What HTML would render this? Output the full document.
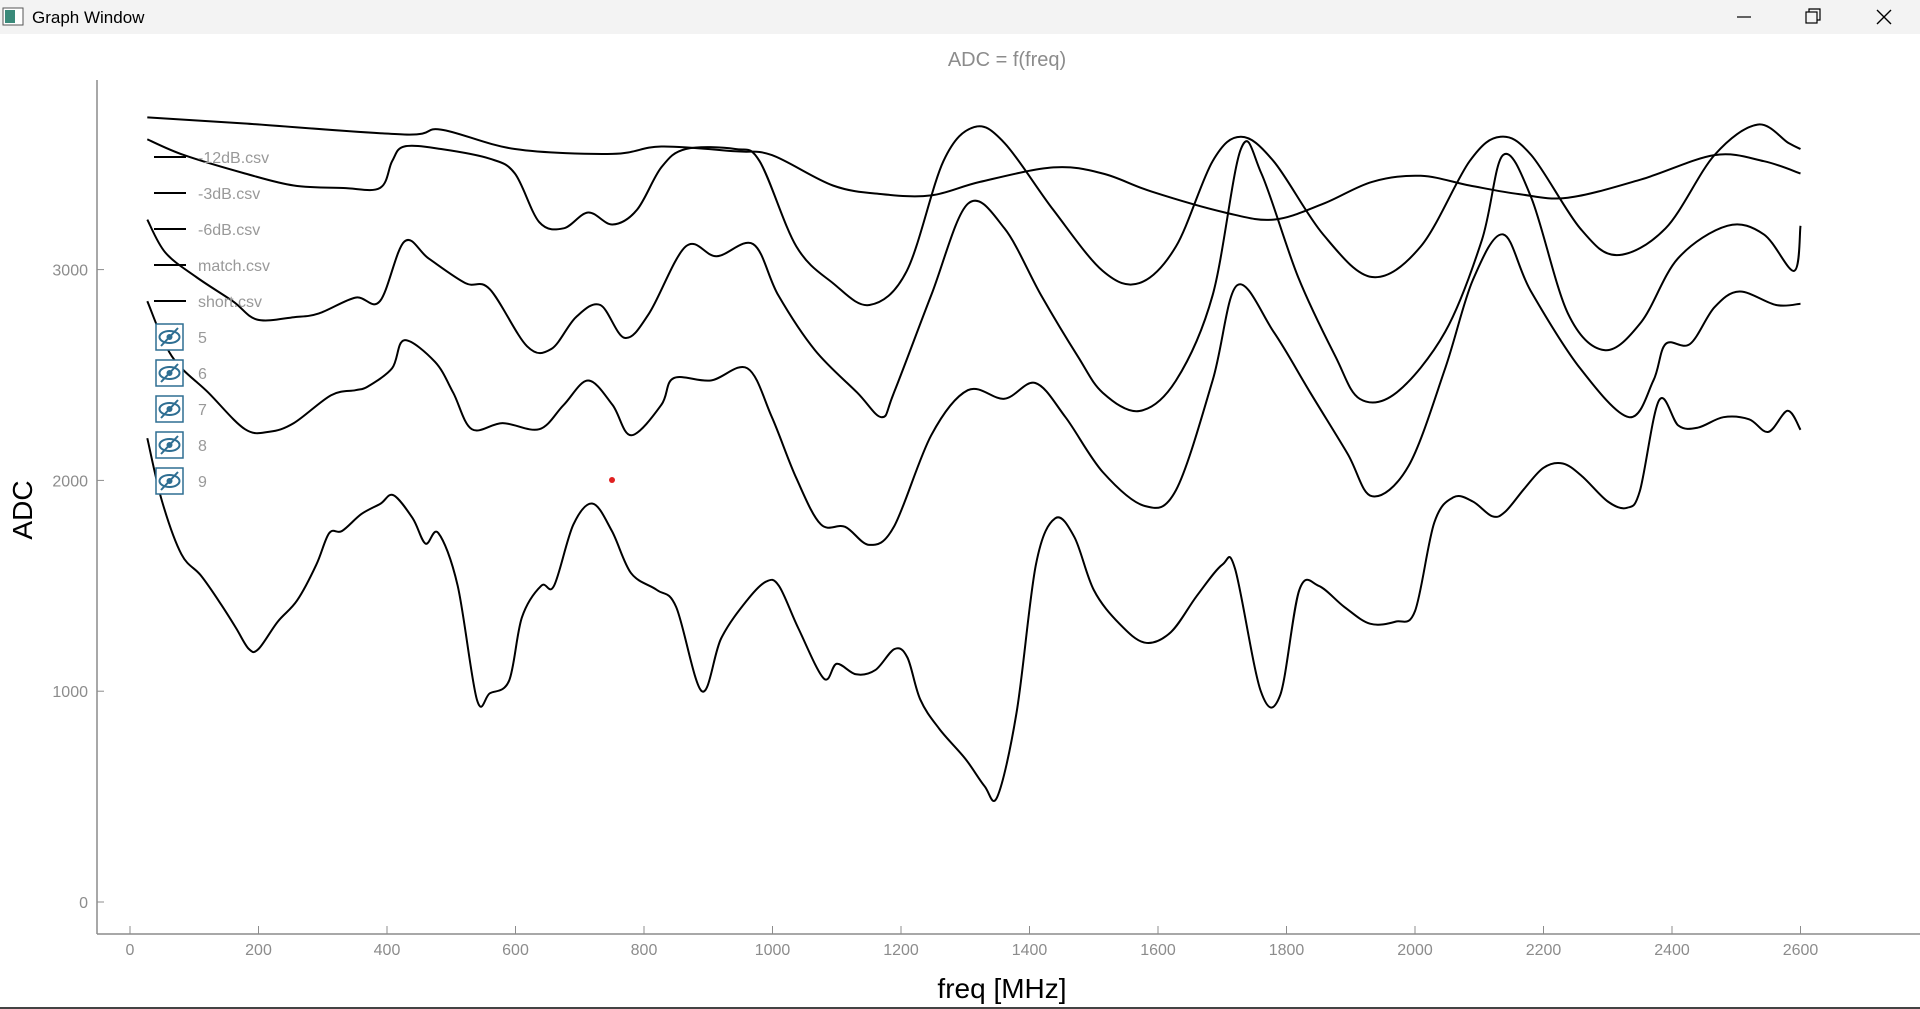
<!DOCTYPE html>
<html><head><meta charset="utf-8"><style>
html,body{margin:0;padding:0;width:1920px;height:1009px;overflow:hidden;background:#fff;font-family:"Liberation Sans",sans-serif}
#titlebar{position:absolute;left:0;top:0;width:1920px;height:34px;background:#f3f3f3}
svg{position:absolute;left:0;top:0}
</style></head><body>
<div id="titlebar"></div>
<svg id="chart" width="1920" height="1009">
  <g><rect x="3" y="8" width="20" height="17" fill="#fff" stroke="#555"/><rect x="5" y="10" width="10" height="13" fill="#3a8a7a"/></g>
  <text x="32" y="23" font-size="17" fill="#000">Graph Window</text>
  <line x1="1737" y1="17" x2="1751" y2="17" stroke="#000" stroke-width="1.2"/>
  <g fill="none" stroke="#000" stroke-width="1.2"><rect x="1806" y="12" width="11" height="11"/><path d="M1809 12 V9 H1820 V20 H1817"/></g>
  <path d="M1877 10 L1891 24 M1891 10 L1877 24" stroke="#000" stroke-width="1.4"/>
  <text x="1007" y="66" font-size="20" fill="#8c8c8c" text-anchor="middle">ADC = f(freq)</text>
  <g id="axes"></g>
  <g id="series"></g>
  <g id="legend"></g>
  <circle cx="612" cy="480" r="3" fill="#e02020"/>
  <text x="1002" y="998" font-size="28" fill="#000" text-anchor="middle">freq [MHz]</text>
  <text x="0" y="0" font-size="28" fill="#000" text-anchor="middle" transform="translate(32,510) rotate(-90)">ADC</text>
  <line x1="0" y1="1008" x2="1920" y2="1008" stroke="#444" stroke-width="2"/>
</svg>
<script>
const xTicks=[0,200,400,600,800,1000,1200,1400,1600,1800,2000,2200,2400,2600];
const yTicks=[0,1000,2000,3000];
const seriesNames=["-12dB.csv","-3dB.csv","-6dB.csv","match.csv","short.csv"];
const hiddenNames=["5","6","7","8","9"];
const freqA=[27,179,427,484,599,751,827,942,999,1094,1170,1247,1323,1437,1514,1590,1704,1780,1857,1933,2009,2085,2162,2238,2352,2466,2543,2600];
const adcA=[3722,3693,3641,3664,3572,3549,3584,3561,3543,3399,3358,3352,3416,3485,3456,3370,3271,3237,3312,3416,3445,3399,3358,3341,3428,3543,3514,3456];
const freqB=[27,84,179,255,332,389,408,427,484,560,599,637,675,713,751,789,827,865,942,980,1037,1094,1151,1209,1266,1314,1361,1437,1514,1571,1628,1685,1729,1780,1857,1933,2009,2085,2133,2181,2257,2314,2390,2466,2533,2581,2600];
const adcB=[3618,3543,3456,3399,3387,3387,3514,3584,3572,3526,3456,3225,3196,3271,3214,3283,3485,3572,3572,3514,3110,2936,2832,2994,3514,3676,3601,3283,2994,2936,3110,3514,3630,3514,3167,2965,3110,3514,3630,3543,3196,3069,3196,3543,3688,3601,3572];
const freqC=[27,55,103,160,198,255,294,351,389,427,465,522,560,618,656,694,732,770,808,865,913,970,1009,1066,1132,1170,1189,1247,1304,1361,1418,1475,1514,1571,1628,1685,1729,1761,1818,1876,1914,1971,2047,2104,2137,2181,2238,2295,2352,2409,2486,2543,2590,2600];
const adcC=[3237,3081,2965,2850,2763,2774,2792,2867,2850,3133,3052,2936,2907,2636,2624,2774,2832,2676,2792,3110,3063,3121,2878,2618,2416,2300,2416,2878,3312,3196,2878,2589,2416,2329,2474,2878,3572,3456,2965,2589,2387,2416,2705,3139,3543,3341,2792,2618,2751,3052,3208,3167,2994,3208];
const freqD=[27,65,122,179,217,255,313,351,370,408,427,475,503,532,580,637,675,713,751,780,827,846,904,961,999,1037,1075,1113,1151,1189,1247,1304,1361,1409,1456,1514,1580,1628,1685,1723,1780,1837,1895,1933,1990,2047,2090,2137,2180,2257,2333,2371,2390,2428,2466,2505,2562,2600];
const adcD=[2850,2589,2416,2243,2231,2272,2404,2428,2445,2532,2665,2561,2416,2243,2272,2243,2358,2474,2358,2214,2358,2485,2474,2532,2300,2011,1792,1780,1694,1780,2214,2428,2387,2462,2300,2040,1878,1954,2474,2925,2705,2416,2127,1925,2069,2532,2950,3167,2900,2532,2300,2474,2647,2647,2821,2896,2832,2838];
const freqE=[27,50,80,110,140,165,185,200,230,260,290,310,330,360,390,410,440,460,480,510,540,560,590,610,640,660,690,720,750,780,820,850,890,920,960,990,1010,1040,1080,1100,1130,1160,1190,1210,1230,1260,1300,1330,1350,1380,1410,1440,1470,1500,1540,1580,1620,1660,1700,1720,1760,1790,1820,1850,1890,1930,1970,2000,2030,2060,2090,2120,2140,2170,2200,2230,2260,2300,2330,2350,2380,2410,2440,2480,2520,2550,2580,2600];
const adcE=[2200,1900,1650,1550,1420,1300,1200,1200,1330,1430,1600,1750,1760,1840,1890,1930,1820,1700,1750,1500,960,990,1050,1350,1500,1500,1790,1890,1760,1560,1480,1400,1000,1250,1430,1520,1500,1300,1060,1130,1080,1100,1200,1160,960,820,680,550,500,900,1600,1820,1730,1480,1320,1230,1280,1450,1600,1580,1000,980,1480,1500,1400,1320,1330,1380,1800,1920,1900,1830,1850,1960,2060,2080,2020,1900,1870,1950,2380,2260,2250,2300,2290,2230,2330,2240];

const NS="http://www.w3.org/2000/svg";
function xs(f){return 130+f*0.6425;}
function ys(v){return 902-v*0.2108;}
function mk(tag,attrs,parent){const e=document.createElementNS(NS,tag);for(const k in attrs)e.setAttribute(k,attrs[k]);parent.appendChild(e);return e;}
const axes=document.getElementById('axes');
const yAxis=mk('line',{x1:97,y1:80,x2:97,y2:934,stroke:'#8c8c8c','stroke-width':1.5},axes);


const xAxis=mk('line',{x1:97,y1:934,x2:1920,y2:934,stroke:'#8c8c8c','stroke-width':1.5},axes);


xTicks.forEach(t=>{
  const x=xs(t);
  mk('line',{x1:x,y1:926,x2:x,y2:934,stroke:'#8c8c8c'},axes);
  const tx=mk('text',{x:x,y:955,'font-size':16,fill:'#8c8c8c','text-anchor':'middle'},axes);
  tx.textContent=t;
  
  
});
yTicks.forEach(t=>{
  const y=ys(t);
  mk('line',{x1:97,y1:y,x2:104,y2:y,stroke:'#8c8c8c'},axes);
  const tx=mk('text',{x:88,y:y+6,'font-size':16,fill:'#8c8c8c','text-anchor':'end'},axes);
  tx.textContent=t;
  
  
});
function smoothPath(p){
  let d='M'+p[0][0].toFixed(1)+','+p[0][1].toFixed(1);
  for(let i=0;i<p.length-1;i++){
    const p0=p[Math.max(0,i-1)],p1=p[i],p2=p[i+1],p3=p[Math.min(p.length-1,i+2)];
    const c1x=p1[0]+(p2[0]-p0[0])/6,c1y=p1[1]+(p2[1]-p0[1])/6;
    const c2x=p2[0]-(p3[0]-p1[0])/6,c2y=p2[1]-(p3[1]-p1[1])/6;
    d+=' C'+c1x.toFixed(1)+','+c1y.toFixed(1)+' '+c2x.toFixed(1)+','+c2y.toFixed(1)+' '+p2[0].toFixed(1)+','+p2[1].toFixed(1);
  }
  return d;
}
const series=document.getElementById('series');
const allF=[freqA,freqB,freqC,freqD,freqE], allV=[adcA,adcB,adcC,adcD,adcE];
allF.forEach((fa,i)=>{
  const pts=fa.map((f,j)=>[xs(f),ys(allV[i][j])]);
  const pl=mk('path',{d:smoothPath(pts),fill:'none',stroke:'#000','stroke-width':2,'stroke-linejoin':'round'},series);
  
  
});
const legend=document.getElementById('legend');
seriesNames.forEach((n,i)=>{
  const y=157+i*36;
  const g=mk('g',{},legend);
  
  
  mk('line',{x1:154,y1:y,x2:186,y2:y,stroke:'#000','stroke-width':2},g);
  const t=mk('text',{x:198,y:y+6,'font-size':16,fill:'#999'},g);
  t.textContent=n;
});
hiddenNames.forEach((n,i)=>{
  const y=337+i*36;
  const g=mk('g',{},legend);
  
  
  mk('rect',{x:156,y:y-13,width:27,height:26,fill:'#fff',stroke:'#2e6e92','stroke-width':1.5},g);
  mk('ellipse',{cx:169.5,cy:y,rx:10,ry:6,fill:'none',stroke:'#2e6e92','stroke-width':2},g);
  mk('circle',{cx:169.5,cy:y,r:3,fill:'#2e6e92'},g);
  mk('line',{x1:161,y1:y+9,x2:178,y2:y-9,stroke:'#2e6e92','stroke-width':2},g);
  const t=mk('text',{x:198,y:y+6,'font-size':16,fill:'#999'},g);
  t.textContent=n;
});
</script>
</body></html>
